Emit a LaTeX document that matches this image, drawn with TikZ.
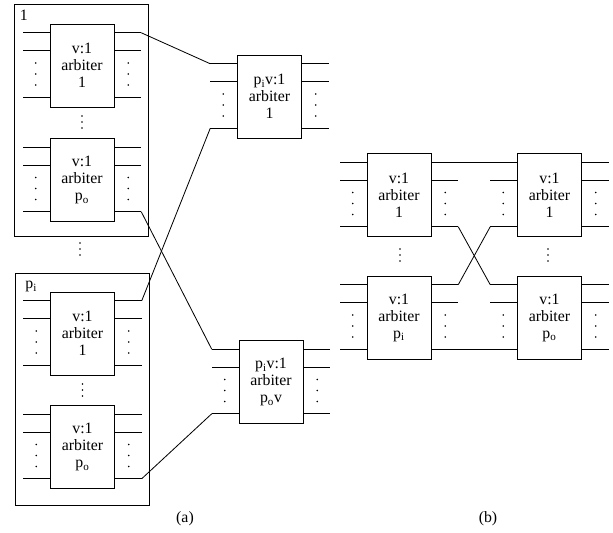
\documentclass[tikz,border=0pt]{standalone}
\usepackage{fontspec}
\setmainfont{Liberation Serif}
\usetikzlibrary{positioning}

\begin{document}
\begin{tikzpicture}[
    x=0.03cm, y=-0.03cm,
    arb/.style={draw, minimum width=1.92cm, minimum height=2.49cm, align=center,
      inner sep=0pt, font=\fontsize{13.5}{14.5}\selectfont},
    grp/.style={draw, minimum height=6.96cm, minimum width=4.02cm, inner sep=0pt},
    lbl/.style={inner sep=0pt, font=\fontsize{13.5}{14.5}\selectfont},
    wire/.style={line width=0.7pt}
  ]
    \useasboundingbox (0,0) rectangle (613,533);

    % (a): the two groups of v:1 arbiters
    \node[grp] (grp1) at (81,120) {};
    \node[grp] (grpp) at (82.5,389.5) {};
    \node[lbl, anchor=north west] (lab1) at ([shift={(6,6)}]grp1.north west) {1};
    \node[lbl, anchor=north west] (labp) at ([shift={(10,8)}]grpp.north west) {p\textsubscript{i}};

    \node[arb] (a11) at (82,65.5) {v:1\\arbiter\\1};
    \node[arb, below=0.93cm of a11] (a1p) {v:1\\arbiter\\p\textsubscript{o}};
    \node[arb] (ap1) at (82.5,333.5) {v:1\\arbiter\\1};
    \node[arb, below=0.9cm of ap1] (app) {v:1\\arbiter\\p\textsubscript{o}};

    \node[arb] (m1) at (269.5,96.5) {p\textsubscript{i}v:1\\arbiter\\1};
    \node[arb] (m2) at (271,382) {p\textsubscript{i}v:1\\arbiter\\p\textsubscript{o}v};

    % (b)
    \node[arb] (b11) at (399,195) {v:1\\arbiter\\1};
    \node[arb, below=1.17cm of b11] (b1p) {v:1\\arbiter\\p\textsubscript{i}};
    \node[arb, right=2.58cm of b11] (b21) {v:1\\arbiter\\1};
    \node[arb, right=2.58cm of b1p] (b2p) {v:1\\arbiter\\p\textsubscript{o}};

    % ports on every arbiter
    \foreach \b in {a11,a1p,ap1,app,m1,m2,b11,b1p,b21,b2p} {
      \draw[wire] (\b.north west) ++(0,9) -- ++(-27,0) coordinate (\b-l1);
      \draw[wire] (\b.north west) ++(0,27) -- ++(-27,0) coordinate (\b-l2);
      \draw[wire] (\b.south west) ++(0,-10) -- ++(-27,0) coordinate (\b-l3);
      \draw[wire] (\b.north east) ++(0,9) -- ++(27,0) coordinate (\b-r1);
      \draw[wire] (\b.north east) ++(0,27) -- ++(27,0) coordinate (\b-r2);
      \draw[wire] (\b.south east) ++(0,-10) -- ++(27,0) coordinate (\b-r3);
      \foreach \s in {-11,0,11} {
        \fill ([shift={(-14,8.5+\s)}]\b.west) circle (0.7pt);
        \fill ([shift={(14,8.5+\s)}]\b.east) circle (0.7pt);
      }
    }

    % vertical dots
    \foreach \x/\y in {82/122, 82.5/390, 80/249, 400/255, 548/255}
      \foreach \d in {-6,0,6}
        \fill (\x,\y+\d) circle (0.7pt);

    % links
    \draw[wire] (a11-r1) -- (m1-l1);
    \draw[wire] (a1p-r3) -- (m2-l1);
    \draw[wire] (ap1-r1) -- (m1-l3);
    \draw[wire] (app-r3) -- (m2-l3);

    \draw[wire] (b11-r1) -- (b21-l1);
    \draw[wire] (b1p-r3) -- (b2p-l3);
    \draw[wire] (b11-r3) -- (b2p-l1);
    \draw[wire] (b1p-r1) -- (b21-l3);

    \node[lbl] (capa) at (185,519) {(a)};
    \node[lbl] (capb) at (488,519) {(b)};
\end{tikzpicture}
\end{document}
